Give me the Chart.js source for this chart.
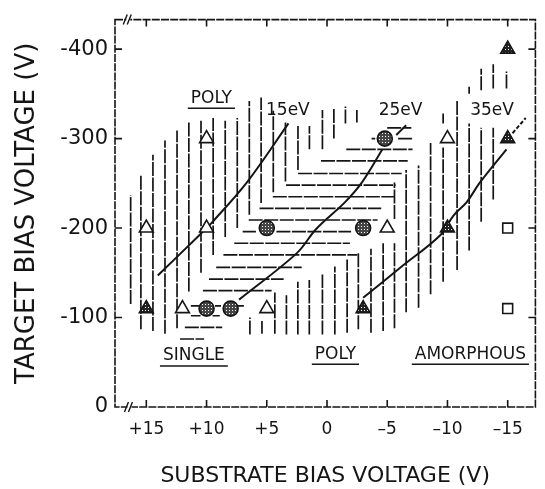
<!DOCTYPE html>
<html>
<head>
<meta charset="utf-8">
<script src="https://cdn.jsdelivr.net/npm/chart.js@4"></script>
<style>
  html, body { margin: 0; padding: 0; background: #fff; }
  canvas { display: block; }
</style>
</head>
<body>
<canvas id="chart" width="545" height="489"></canvas>
<script>
// substrate bias (x) vs target bias (y), both in volts

const xTicks = [15, 10, 5, 0, -5, -10, -15];
const xTickLabels = ["+15", "+10", "+5", "0", "–5", "–10", "–15"];
const yTicks = [0, -100, -200, -300, -400];
const yTickLabels = ["0", "-100", "-200", "-300", "-400"];

const openTriangles = [[15, -200], [10, -200], [10, -300], [12, -110], [5, -110], [-5, -200], [-10, -300]];
const filledTriangles = [[15, -110], [-3, -110], [-10, -200], [-15, -300], [-15, -400]];
const circles = [[10, -110], [8, -110], [5, -200], [-3, -200], [-4.8, -300]];
const squares = [[-15, -200], [-15, -110]];

// constant-energy curves
const curve15 = [[14.05, -147], [10.6, -192], [9.5, -207], [6.6, -252], [3.2, -317]];
const curve25 = [[7.3, -120], [2.5, -172], [0.9, -199], [-1.5, -229], [-2.9, -251], [-4.6, -288]];
const curve35 = [[-3, -122], [-6.2, -157], [-9.4, -192], [-10.5, -214], [-11.6, -229], [-12.7, -251], [-14.9, -288]];
const curve35Tail = [[-15.4, -306], [-16.5, -323]];
const leader25 = [[-5.75, -304], [-6.57, -315]];

const curveLabels = ["15eV", "25eV", "35eV"];
const curveLabelAt = [[3.25, -331], [-6.1, -331], [-13.7, -331]];
const regionLabels = ["POLY", "SINGLE", "POLY", "AMORPHOUS"];
const regionLabelAt = [[9.6, -345], [11.05, -57], [-0.7, -59], [-11.9, -59]];

// vertical hatching (polycrystalline / amorphous): [x, from y, to y]
const vHatch = [
  [16.3, -115, -237], [15.45, -87, -259], [14.45, -85, -282], [13.45, -82, -298],
  [12.45, -88, -309], [11.47, -129, -319], [10.46, -150, -320], [9.45, -170, -323],
  [8.45, -190, -320], [7.45, -200, -323], [6.45, -215, -342], [5.47, -228, -346],
  [4.46, -240, -331], [3.45, -252, -318], [2.41, -265, -314], [1.46, -288, -314],
  [0.38, -288, -332], [-0.57, -300, -334], [-1.53, -317, -336], [-2.48, -318, -332],
  [6.4, -81, -100], [5.4, -82, -96], [4.33, -82, -128], [3.37, -81, -125],
  [2.42, -81, -140], [1.47, -81, -142], [0.38, -81, -148], [-0.65, -81, -157],
  [-1.67, -83, -165], [-2.6, -87, -172], [-3.65, -83, -177], [-4.66, -85, -183],
  [-5.6, -88, -183], [-5.6, -210, -251], [-6.57, -106, -265], [-7.6, -111, -270],
  [-8.6, -126, -295], [-9.64, -140, -290], [-9.64, -317, -328], [-10.8, -153, -343],
  [-11.8, -175, -317], [-11.8, -350, -358], [-12.8, -207, -312], [-12.8, -354, -378],
  [-13.8, -232, -312], [-13.8, -356, -383], [-14.9, -356, -375]
];

// horizontal hatching (single crystal): [y, from x, to x]
const hHatch = [
  [-76, 12.2, 10.2], [-89, 11.8, 8.7], [-102, 11.3, 10.5], [-102, 9.5, 8.9],
  [-113, 11.3, 10.6], [-113, 9.3, 8.8], [-113, 7.5, 6.9],
  [-130, 10.3, 4.6], [-143, 9.8, 3.6], [-156, 9.2, 2.1], [-170, 8.6, -2.5],
  [-183, 7.7, -1.9], [-196, 7.0, 5.9], [-196, 4.2, -2.0], [-209, 6.5, -4.2],
  [-222, 5.6, -4.5], [-235, 4.5, -5.6], [-248, 3.4, -5.7], [-261, 2.4, -6.2],
  [-275, 0.5, -6.7], [-288, -1.6, -7.1], [-300, -3.7, -4.0], [-300, -5.9, -7.1],
  [-312, -5.0, -7.0]
];

const FONT = "'DejaVu Sans', sans-serif";
const INK = "#151515";

const toPts = arr => arr.map(([x, y]) => ({ x, y }));

function dots(bg) {
  const tile = document.createElement("canvas");
  tile.width = 3;
  tile.height = 3;
  const g = tile.getContext("2d");
  g.fillStyle = bg;
  g.fillRect(0, 0, 3, 3);
  g.fillStyle = "#fff";
  g.fillRect(1, 1, 1, 1);
  return g.createPattern(tile, "repeat");
}

const markerSet = (data, style, radius, fill) => ({
  data: toPts(data),
  showLine: false,
  pointStyle: style,
  pointRadius: radius,
  pointBackgroundColor: fill,
  pointBorderColor: INK,
  pointBorderWidth: 1.6,
  order: 0
});

const curveSet = (data, dash) => ({
  data: toPts(data),
  showLine: true,
  pointRadius: 0,
  borderColor: INK,
  borderWidth: 2,
  borderDash: dash || [],
  tension: 0.35,
  order: 1
});

const hatchPlugin = {
  id: "hatch",
  beforeDatasetsDraw(chart) {
    const { ctx, scales: { x, y } } = chart;
    ctx.save();
    ctx.strokeStyle = INK;
    ctx.lineWidth = 1.7;
    ctx.setLineDash([14, 1.5]);
    ctx.beginPath();
    vHatch.forEach(([xv, y1, y2]) => {
      const px = x.getPixelForValue(xv);
      ctx.moveTo(px, y.getPixelForValue(y1));
      ctx.lineTo(px, y.getPixelForValue(y2));
    });
    hHatch.forEach(([yv, x1, x2]) => {
      const py = y.getPixelForValue(yv);
      ctx.moveTo(x.getPixelForValue(x1), py);
      ctx.lineTo(x.getPixelForValue(x2), py);
    });
    ctx.stroke();
    ctx.restore();
  }
};

const framePlugin = {
  id: "frame",
  afterDatasetsDraw(chart) {
    const { ctx, chartArea: a, scales: { x, y } } = chart;
    ctx.save();
    ctx.strokeStyle = INK;
    ctx.lineWidth = 1.6;
    ctx.setLineDash([8, 1.2]);
    ctx.strokeRect(a.left, a.top, a.right - a.left, a.bottom - a.top);
    ctx.setLineDash([]);

    // inward tick marks on all four sides
    ctx.beginPath();
    xTicks.forEach(v => {
      const px = x.getPixelForValue(v);
      ctx.moveTo(px, a.bottom); ctx.lineTo(px, a.bottom - 7);
      ctx.moveTo(px, a.top); ctx.lineTo(px, a.top + 7);
    });
    yTicks.slice(1).forEach(v => {
      const py = y.getPixelForValue(v);
      ctx.moveTo(a.left, py); ctx.lineTo(a.left + 7, py);
      ctx.moveTo(a.right, py); ctx.lineTo(a.right - 7, py);
    });
    ctx.stroke();

    // axis break marks
    [[16.4, a.bottom], [16.5, a.top]].forEach(([xv, py]) => {
      const px = x.getPixelForValue(xv);
      ctx.fillStyle = "#fff";
      ctx.fillRect(px - 2, py - 2, 4, 4);
      ctx.beginPath();
      ctx.moveTo(px - 5, py + 5); ctx.lineTo(px - 1, py - 5);
      ctx.moveTo(px - 1, py + 5); ctx.lineTo(px + 3, py - 5);
      ctx.lineWidth = 1.4;
      ctx.stroke();
    });

    // curve and region labels
    ctx.fillStyle = INK;
    ctx.textAlign = "center";
    ctx.textBaseline = "middle";
    ctx.font = "17px " + FONT;
    curveLabels.forEach((t, i) => {
      const [xv, yv] = curveLabelAt[i];
      ctx.fillText(t, x.getPixelForValue(xv), y.getPixelForValue(yv));
    });
    ctx.lineWidth = 1.5;
    regionLabels.forEach((t, i) => {
      const [xv, yv] = regionLabelAt[i];
      const px = x.getPixelForValue(xv);
      const py = y.getPixelForValue(yv);
      ctx.fillText(t, px, py);
      const w = ctx.measureText(t).width / 2 + 3;
      ctx.beginPath();
      ctx.moveTo(px - w, py + 10);
      ctx.lineTo(px + w, py + 10);
      ctx.stroke();
    });
    ctx.restore();
  }
};

const ctx = document.getElementById("chart").getContext("2d");

new Chart(ctx, {
  type: "scatter",
  data: {
    datasets: [
      markerSet(openTriangles, "triangle", 8, "#fff"),
      markerSet(filledTriangles, "triangle", 8, dots("#222")),
      markerSet(circles, "circle", 7.5, dots("#444")),
      markerSet(squares, "rect", 7, "#fff"),
      curveSet(curve15),
      curveSet(curve25),
      curveSet(curve35),
      curveSet(curve35Tail, [4, 2]),
      curveSet(leader25)
    ]
  },
  options: {
    responsive: false,
    animation: false,
    layout: { padding: { left: 0, right: 3, top: 15, bottom: 0 } },
    plugins: { legend: { display: false }, tooltip: { enabled: false } },
    scales: {
      x: {
        type: "linear",
        reverse: true,
        min: -17.3,
        max: 17.6,
        afterBuildTicks: s => { s.ticks = xTicks.map(v => ({ value: v })); },
        afterFit: s => { s.height = 82; },
        grid: { display: false, drawTicks: false },
        border: { display: false },
        ticks: {
          autoSkip: false,
          maxRotation: 0,
          padding: 12,
          color: INK,
          font: { family: FONT, size: 17 },
          callback: v => xTickLabels[xTicks.indexOf(v)]
        },
        title: {
          display: true,
          text: "SUBSTRATE BIAS VOLTAGE (V)",
          color: INK,
          font: { family: FONT, size: 22 },
          padding: { top: 0, bottom: 0 }
        }
      },
      y: {
        type: "linear",
        reverse: true,
        min: -433,
        max: 0,
        afterBuildTicks: s => { s.ticks = yTicks.map(v => ({ value: v })); },
        afterFit: s => { s.width = 115; },
        grid: { display: false, drawTicks: false },
        border: { display: false },
        ticks: {
          padding: 7,
          color: INK,
          font: { family: FONT, size: 21 },
          callback: v => yTickLabels[yTicks.indexOf(v)]
        },
        title: {
          display: true,
          text: "TARGET BIAS VOLTAGE (V)",
          color: INK,
          font: { family: FONT, size: 26 },
          padding: { top: 12, bottom: 0 }
        }
      }
    }
  },
  plugins: [hatchPlugin, framePlugin]
});
</script>
</body>
</html>
